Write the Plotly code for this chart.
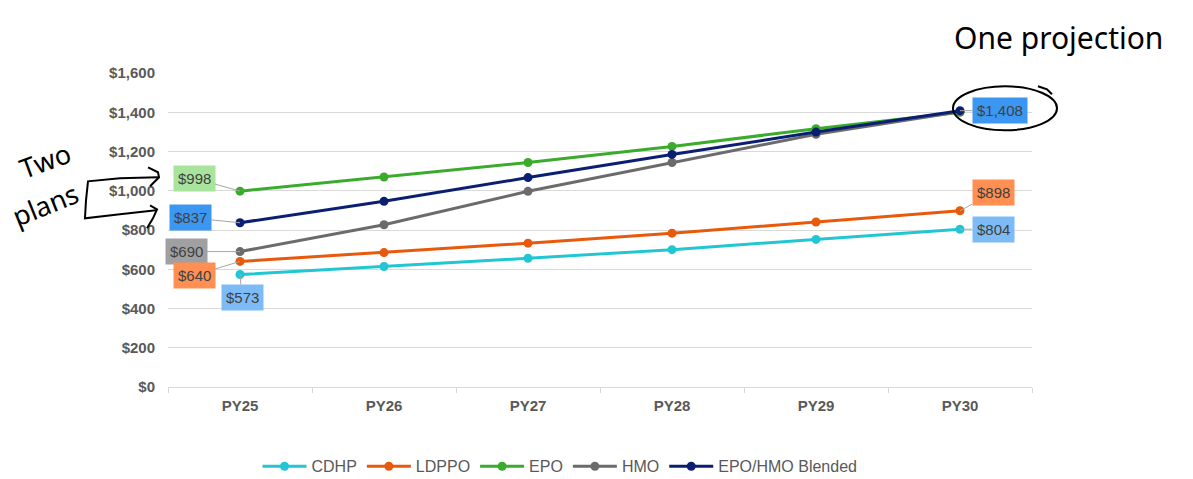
import plotly.graph_objects as go

# Plan years and projected monthly cost per plan
years = ["PY25", "PY26", "PY27", "PY28", "PY29", "PY30"]
cdhp = [573, 614, 656, 700, 752, 804]
ldppo = [640, 685, 733, 784, 841, 898]
epo = [998, 1070, 1144, 1226, 1316, 1400]
hmo = [690, 827, 997, 1144, 1288, 1402]
blended = [837, 946, 1067, 1185, 1299, 1408]

y_ticks = [0, 200, 400, 600, 800, 1000, 1200, 1400, 1600]

series = [
    ("CDHP", cdhp, "#22c6d2"),
    ("LDPPO", ldppo, "#e8590c"),
    ("EPO", epo, "#3aab2c"),
    ("HMO", hmo, "#6b6b6b"),
    ("EPO/HMO Blended", blended, "#0b1f72"),
]

FONT = "Liberation Sans, Arial, sans-serif"
HAND = "Noto Sans, sans-serif"

fig = go.Figure()
for name, vals, color in series:
    fig.add_trace(go.Scatter(
        x=years, y=vals, name=name, mode="lines+markers",
        line=dict(color=color, width=3),
        marker=dict(color=color, size=9),
    ))

# Callout labels: (series values, point index, box colour, x offset, y offset)
callouts = [
    (epo, 0, "#a9e49c", -46, -13),
    (blended, 0, "#3b97f2", -50, -5),
    (hmo, 0, "#a0a0a0", -54, 0),
    (ldppo, 0, "#ff8f52", -46, 14),
    (cdhp, 0, "#7dbbf7", 2, 23),
    (blended, 5, "#3b97f2", 40, 0),
    (ldppo, 5, "#ff8f52", 33, -18),
    (cdhp, 5, "#7dbbf7", 33, 0),
]
for vals, i, bg, ax, ay in callouts:
    fig.add_annotation(
        x=years[i], y=vals[i], text=f"${vals[i]:,.0f}",
        showarrow=True, arrowhead=0, arrowwidth=1, arrowcolor="#a6a6a6",
        ax=ax, ay=ay, bgcolor=bg, borderpad=4,
        font=dict(family=FONT, size=15, color="#404040"),
    )

# Pixel -> paper helpers for the hand-drawn notes
L, R, T, B = 168, 1032, 72.7, 386.7
def px(x):
    return (x - L) / (R - L)
def py(y):
    return (B - y) / (B - T)

def path(points):
    return "M " + " L ".join(f"{px(x):.4f},{py(y):.4f}" for x, y in points)

ink = dict(color="black", width=2)

# Bracket with two arrows pointing at the first-year labels
fig.add_shape(type="path", xref="paper", yref="paper", line=ink,
              path=path([(158, 177), (120, 178), (88, 181), (86, 200), (85, 218), (120, 214), (156, 210)]))
fig.add_shape(type="path", xref="paper", yref="paper", line=ink,
              path=path([(148, 167), (158, 172), (159, 177), (150, 186)]))
fig.add_shape(type="path", xref="paper", yref="paper", line=ink,
              path=path([(150, 205), (157, 209), (153, 218), (147, 228)]))

# Circle around the final blended projection
fig.add_shape(type="circle", xref="paper", yref="paper", line=ink,
              x0=px(953), x1=px(1057), y0=py(130), y1=py(86))
fig.add_shape(type="path", xref="paper", yref="paper", line=ink,
              path=path([(1038, 86), (1047, 89), (1052, 94)]))

hand_notes = [
    ("One projection", 1058, 37, 0, 30),
    ("Two", 45, 160, -20, 27),
    ("plans", 45, 204, -22, 27),
]
for text, x, y, angle, size in hand_notes:
    fig.add_annotation(xref="paper", yref="paper", x=px(x), y=py(y),
                       xanchor="center", yanchor="middle",
                       text=text, showarrow=False, textangle=angle,
                       font=dict(family=HAND, size=size, color="black"))

fig.update_layout(
    width=1193, height=479,
    margin=dict(l=L, r=1193 - R, t=T, b=479 - B, autoexpand=False),
    paper_bgcolor="white", plot_bgcolor="white",
    font=dict(family=FONT, color="#595959"),
    showlegend=True,
    legend=dict(orientation="h", x=px(560), xanchor="center", y=py(466), yanchor="middle",
                font=dict(family=FONT, size=16, color="#595959"),
                itemwidth=44, tracegroupgap=0),
    xaxis=dict(
        type="category", range=[-0.5, 5.5], tickson="boundaries",
        ticks="outside", ticklen=5, tickcolor="#d9d9d9",
        showline=True, linecolor="#d9d9d9", linewidth=1,
        showgrid=False, ticklabelstandoff=5,
        tickfont=dict(family=FONT, size=15, color="#595959", weight="bold"),
    ),
    yaxis=dict(
        range=[0, 1600], tickvals=y_ticks,
        ticktext=[f"${v:,.0f}" for v in y_ticks],
        showgrid=True, gridcolor="#d9d9d9", gridwidth=1,
        zeroline=False, showline=False, ticklabelstandoff=12,
        tickfont=dict(family=FONT, size=15, color="#595959", weight="bold"),
    ),
)

fig.write_html("out.html")
